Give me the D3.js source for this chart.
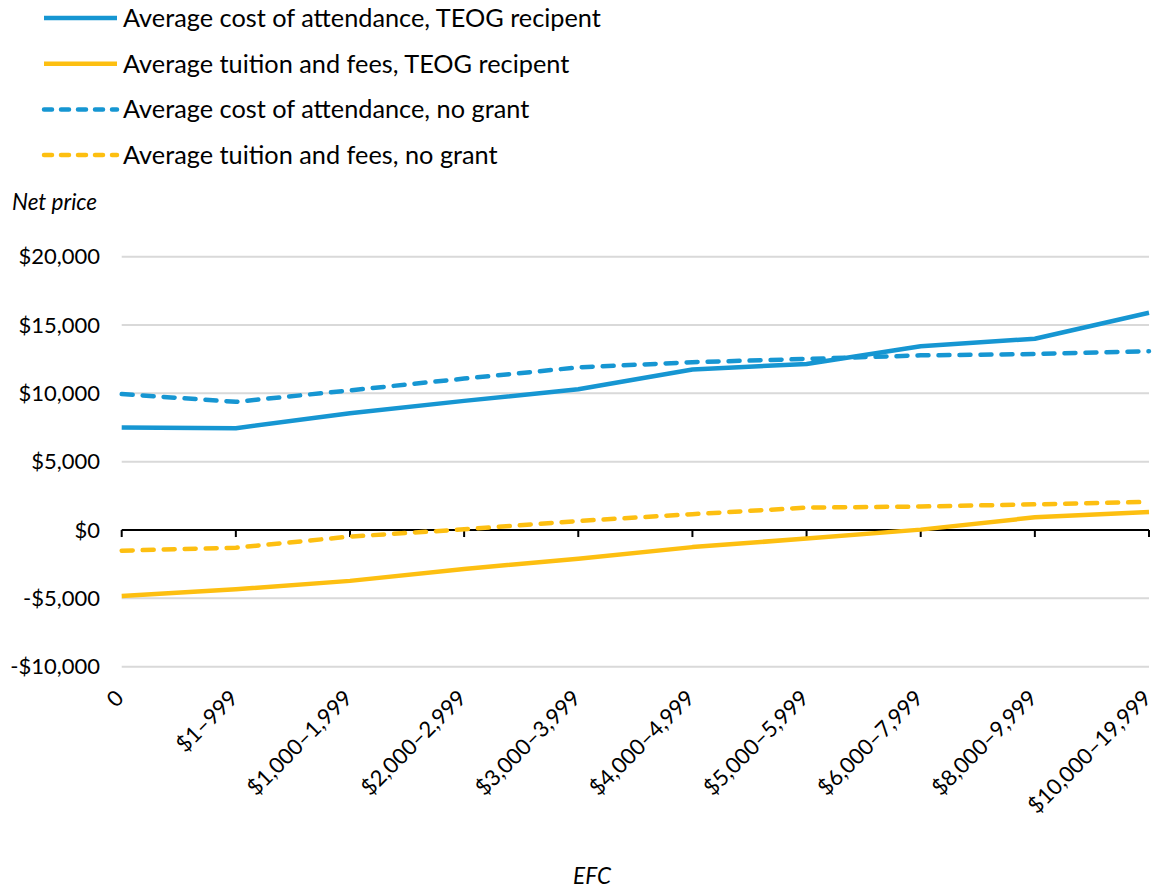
<!DOCTYPE html>
<html>
<head>
<meta charset="utf-8">
<script src="https://cdn.jsdelivr.net/npm/d3@7"></script>
<style>
  html, body { margin: 0; padding: 0; background: #fff; }
  svg { display: block; font-family: Lato, "Open Sans", sans-serif; }
</style>
</head>
<body>
<svg id="chart" width="1156" height="888"></svg>
<script>
const categories = ["0", "$1–999", "$1,000–1,999", "$2,000–2,999", "$3,000–3,999", "$4,000–4,999", "$5,000–5,999", "$6,000–7,999", "$8,000–9,999", "$10,000–19,999"];
const coaTeog     = [7500, 7450, 8550, 9450, 10300, 11750, 12150, 13450, 14000, 15900];
const tuitionTeog = [-4830, -4340, -3720, -2850, -2100, -1250, -620, 30, 930, 1320];
const coaNoGrant  = [9950, 9380, 10220, 11080, 11900, 12280, 12520, 12780, 12880, 13080];
const tuitionNoGrant = [-1510, -1290, -480, 50, 660, 1160, 1640, 1720, 1880, 2060];
const yTicks = [-10000, -5000, 0, 5000, 10000, 15000, 20000];
const seriesNames = ["Average cost of attendance, TEOG recipent", "Average tuition and fees, TEOG recipent", "Average cost of attendance, no grant", "Average tuition and fees, no grant"];

const BLUE = "#1696d2", YELLOW = "#fdbf11";
const series = [
  {name: seriesNames[0], values: coaTeog, color: BLUE, dashed: false},
  {name: seriesNames[1], values: tuitionTeog, color: YELLOW, dashed: false},
  {name: seriesNames[2], values: coaNoGrant, color: BLUE, dashed: true},
  {name: seriesNames[3], values: tuitionNoGrant, color: YELLOW, dashed: true}
];

const svg = d3.select("#chart");
const left = 121.7, right = 1149;
const x = d3.scalePoint().domain(categories).range([left, right]);
const y = d3.scaleLinear().domain([-10000, 20000]).range([666.7, 256.7]);

// gridlines
svg.append("g").selectAll("line").data(yTicks.filter(d => d !== 0)).join("line")
  .attr("x1", left).attr("x2", right)
  .attr("y1", d => y(d)).attr("y2", d => y(d))
  .attr("stroke", "#d9d9d9").attr("stroke-width", 2);

// y tick labels
const fmt = d => (d < 0 ? "-$" : "$") + d3.format(",")(Math.abs(d));
svg.append("g").selectAll("text").data(yTicks).join("text")
  .attr("x", 100).attr("y", d => y(d)).attr("dy", "0.35em")
  .attr("text-anchor", "end").attr("font-size", 22).attr("fill", "#000")
  .text(fmt);

// zero axis with ticks
const axis = svg.append("g");
axis.append("line").attr("x1", left).attr("x2", right)
  .attr("y1", y(0)).attr("y2", y(0)).attr("stroke", "#000").attr("stroke-width", 2);
axis.selectAll("line.tick").data(categories).join("line").attr("class", "tick")
  .attr("x1", d => x(d)).attr("x2", d => x(d))
  .attr("y1", y(0)).attr("y2", y(0) + 7)
  .attr("stroke", "#000").attr("stroke-width", 2);

// x tick labels
svg.append("g").selectAll("text").data(categories).join("text")
  .attr("transform", d => `translate(${x(d) - 2},694) rotate(-45)`)
  .attr("dy", "0.35em").attr("text-anchor", "end")
  .attr("font-size", 22).attr("fill", "#000")
  .text(d => d);

// lines
const line = d3.line().x((d, i) => x(categories[i])).y(d => y(d));
svg.append("g").selectAll("path").data(series).join("path")
  .attr("d", s => line(s.values))
  .attr("fill", "none")
  .attr("stroke", s => s.color)
  .attr("stroke-width", 4.5)
  .attr("stroke-linecap", s => s.dashed ? "round" : "butt")
  .attr("stroke-linejoin", "round")
  .attr("stroke-dasharray", s => s.dashed ? "11,10" : null);

// legend
const lg = svg.append("g").selectAll("g").data(series).join("g")
  .attr("transform", (d, i) => `translate(0,${18 + i * 45.7})`);
lg.append("line").attr("x1", 44).attr("x2", 117).attr("y1", 0).attr("y2", 0)
  .attr("stroke", d => d.color).attr("stroke-width", 4.5)
  .attr("stroke-linecap", d => d.dashed ? "round" : "butt")
  .attr("stroke-dasharray", d => d.dashed ? "8,9" : null);
lg.append("text").attr("x", 123).attr("y", 0).attr("dy", "0.35em")
  .attr("font-size", 25.3).attr("fill", "#000").text(d => d.name);

// axis titles
svg.append("text").attr("x", 12).attr("y", 210).attr("font-size", 22.5)
  .attr("font-style", "italic").text("Net price");
svg.append("text").attr("x", 592).attr("y", 884).attr("font-size", 22.5)
  .attr("font-style", "italic").attr("text-anchor", "middle").text("EFC");
</script>
</body>
</html>
